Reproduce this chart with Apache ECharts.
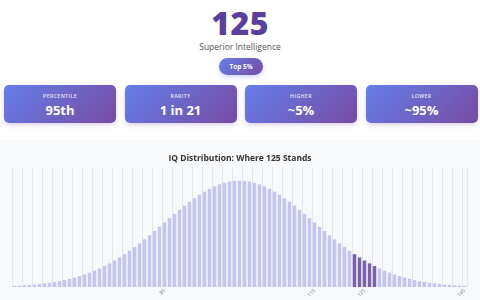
<!DOCTYPE html>
<html>
<head>
<meta charset="utf-8">
<script src="https://cdn.jsdelivr.net/npm/echarts@6/dist/echarts.min.js"></script>
<style>
html,body{margin:0;padding:0;width:480px;height:300px;overflow:hidden;background:#fff;font-family:"Open Sans","Noto Sans",sans-serif;}
#score{position:absolute;left:0;top:3px;width:480px;text-align:center;font-size:32px;font-weight:800;color:#5b3f9c;line-height:40px;letter-spacing:0.5px;}
#cls{position:absolute;left:0;top:40px;width:480px;text-align:center;font-size:8.5px;color:#555;line-height:14px;}
#pill{position:absolute;left:219px;top:58px;width:44px;height:17px;border-radius:9px;background:linear-gradient(135deg,#667eea 0%,#764ba2 100%);color:#fff;font-size:6.5px;font-weight:700;text-align:center;line-height:17px;box-shadow:0 2px 5px rgba(102,126,234,0.35);}
.card{position:absolute;top:85px;width:112px;height:38px;border-radius:5px;background:linear-gradient(135deg,#667eea 0%,#764ba2 100%);color:#fff;text-align:center;box-shadow:0 2px 5px rgba(118,75,162,0.25);}
.card .lab{position:absolute;left:0;right:0;top:8px;font-size:5.2px;font-weight:600;letter-spacing:0.4px;opacity:0.85;line-height:7px;}
.card .val{position:absolute;left:0;right:0;top:16px;font-size:13px;font-weight:700;line-height:18px;}
#chart{position:absolute;left:0;top:140px;width:480px;height:160px;background:#f8f9fb;}
</style>
</head>
<body>
<div id="score"></div>
<div id="cls"></div>
<div id="pill"></div>
<div id="cards"></div>
<div id="chart"></div>
<script>
// Header / summary texts
const scoreText = "125";
const classText = "Superior Intelligence";
const pillText = "Top 5%";
const cardLabels = ["PERCENTILE", "RARITY", "HIGHER", "LOWER"];
const cardValues = ["95th", "1 in 21", "~5%", "~95%"];

// Chart data: IQ scores 55..145
const iqCategories = [55,56,57,58,59,60,61,62,63,64,65,66,67,68,69,70,71,72,73,74,75,76,77,78,79,80,81,82,83,84,85,86,87,88,89,90,91,92,93,94,95,96,97,98,99,100,101,102,103,104,105,106,107,108,109,110,111,112,113,114,115,116,117,118,119,120,121,122,123,124,125,126,127,128,129,130,131,132,133,134,135,136,137,138,139,140,141,142,143,144,145];
// Bar heights (density, per mille)
const densityValues = [0.30,0.36,0.44,0.53,0.63,0.76,0.91,1.07,1.27,1.49,1.75,2.04,2.36,2.73,3.14,3.60,4.10,4.66,5.26,5.92,6.63,7.39,8.21,9.07,9.98,10.93,11.92,12.95,13.99,15.06,16.13,17.21,18.27,19.31,20.33,21.30,22.21,23.07,23.85,24.55,25.16,25.67,26.07,26.36,26.54,26.60,26.54,26.36,26.07,25.67,25.16,24.55,23.85,23.07,22.21,21.30,20.33,19.31,18.27,17.21,16.13,15.06,13.99,12.95,11.92,10.93,9.98,9.07,8.21,7.39,6.63,5.92,5.26,4.66,4.10,3.60,3.14,2.73,2.36,2.04,1.75,1.49,1.27,1.07,0.91,0.76,0.63,0.53,0.44,0.36,0.30];
const highlightScores = [123,124,125,126,127];
const shownTickLabels = [85,115,125,145];
const chartTitle = "IQ Distribution: Where 125 Stands";

document.getElementById('score').textContent = scoreText;
document.getElementById('cls').textContent = classText;
document.getElementById('pill').textContent = pillText;
const cardsEl = document.getElementById('cards');
cardLabels.forEach((l, i) => {
  const c = document.createElement('div');
  c.className = 'card';
  c.style.left = (4 + i * 120.5) + 'px';
  c.innerHTML = '<div class="lab"></div><div class="val"></div>';
  c.querySelector('.lab').textContent = l;
  c.querySelector('.val').textContent = cardValues[i];
  cardsEl.appendChild(c);
});

const chart = echarts.init(document.getElementById('chart'), null, {renderer: 'canvas'});
chart.setOption({
  animation: false,
  title: {
    text: chartTitle, left: 'center', top: 9,
    textStyle: {fontSize: 8.5, fontWeight: 'bold', color: '#333', fontFamily: 'Open Sans'}
  },
  grid: {left: 12, right: 13, top: 27, bottom: 11},
  xAxis: {
    type: 'category',
    data: iqCategories.map(String),
    axisLine: {show: false},
    axisTick: {show: false},
    splitLine: {show: true, interval: 1, lineStyle: {color: '#e6e7ec', width: 1}},
    axisLabel: {
      interval: (idx, val) => shownTickLabels.includes(Number(val)),
      rotate: 45, fontSize: 5, color: '#777', margin: 3, fontFamily: 'Open Sans'
    }
  },
  yAxis: {type: 'value', show: false, min: 0, max: 30, splitLine: {show: false}},
  series: [{
    type: 'bar',
    barCategoryGap: '30%',
    data: densityValues.map((v, i) => ({
      value: v,
      itemStyle: {color: highlightScores.includes(iqCategories[i]) ? '#7a62aa' : '#c4c6ef'}
    }))
  }]
});
</script>
</body>
</html>
